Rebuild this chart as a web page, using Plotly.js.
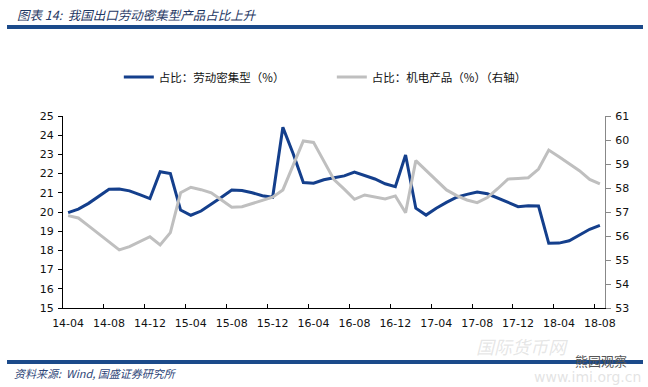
<!DOCTYPE html>
<html><head><meta charset="utf-8">
<script src="https://cdn.plot.ly/plotly-3.0.1.min.js"></script>
<style>html,body{margin:0;padding:0;background:#fff}#chart{width:648px;height:387px}</style>
</head><body><div id="chart"></div>
<script>
const months = [
  "2014-04","2014-05","2014-06","2014-07","2014-08","2014-09","2014-10","2014-11","2014-12",
  "2015-01","2015-02","2015-03","2015-04","2015-05","2015-06","2015-07","2015-08","2015-09","2015-10","2015-11","2015-12",
  "2016-01","2016-02","2016-03","2016-04","2016-05","2016-06","2016-07","2016-08","2016-09","2016-10","2016-11","2016-12",
  "2017-01","2017-02","2017-03","2017-04","2017-05","2017-06","2017-07","2017-08","2017-09","2017-10","2017-11","2017-12",
  "2018-01","2018-02","2018-03","2018-04","2018-05","2018-06","2018-07","2018-08"
];
const tickMonths = ["2014-04","2014-08","2014-12","2015-04","2015-08","2015-12","2016-04","2016-08","2016-12","2017-04","2017-08","2017-12","2018-04","2018-08"];
const tickLabels = ["14-04","14-08","14-12","15-04","15-08","15-12","16-04","16-08","16-12","17-04","17-08","17-12","18-04","18-08"];

// 占比：劳动密集型（%） left axis
const laborShare = [
  19.97,20.15,20.45,20.82,21.18,21.20,21.10,20.90,20.70,
  22.10,22.00,20.10,19.83,20.05,20.40,20.77,21.15,21.12,21.00,20.85,20.77,
  24.41,23.05,21.53,21.50,21.68,21.78,21.88,22.08,21.90,21.72,21.47,21.32,
  22.97,20.20,19.84,20.20,20.50,20.77,20.92,21.04,20.95,20.72,20.50,20.28,
  20.33,20.31,18.37,18.38,18.50,18.80,19.10,19.30
];
// 占比：机电产品（%） right axis
const mechShare = [
  56.85,56.75,56.42,56.08,55.75,55.42,55.56,55.77,55.97,
  55.63,56.14,57.80,58.03,57.93,57.80,57.50,57.20,57.22,57.35,57.48,57.62,
  57.92,58.95,59.96,59.90,59.10,58.35,57.95,57.53,57.71,57.62,57.54,57.67,
  56.97,59.14,58.73,58.32,57.92,57.68,57.50,57.39,57.60,57.97,58.37,58.40,
  58.43,58.79,59.58,59.30,59.00,58.72,58.36,58.17
];
const seriesNames = ["占比：劳动密集型（%）","占比：机电产品（%）（右轴）"];
const titleText = "图表 14:  我国出口劳动密集型产品占比上升";
const sourceText = "资料来源:  Wind, 国盛证券研究所";

const tickFont = {family:"DejaVu Sans", size:11, color:"#111"};
const cjk = "Noto Sans CJK SC";

const traces = [
  {x:months, y:laborShare, type:"scatter", mode:"lines", name:seriesNames[0],
   line:{color:"#143F8C", width:3}, yaxis:"y"},
  {x:months, y:mechShare, type:"scatter", mode:"lines", name:seriesNames[1],
   line:{color:"#BFBFBF", width:3}, yaxis:"y2"}
];

const layout = {
  width:648, height:387,
  margin:{l:63, r:43, t:116, b:79},
  paper_bgcolor:"#fff", plot_bgcolor:"#fff",
  showlegend:true,
  legend:{orientation:"h", x:0.103, xanchor:"left", y:1.203, yanchor:"middle",
          font:{family:cjk, size:11.5, color:"#111"}, entrywidth:168, bgcolor:"rgba(0,0,0,0)"},
  xaxis:{type:"category", categoryorder:"array", categoryarray:months,
         range:[-0.5, 52.5], tickmode:"array", tickvals:tickMonths, ticktext:tickLabels,
         tickson:"boundaries", ticks:"inside", ticklen:4, tickcolor:"#000", tickangle:0,
         showline:true, linecolor:"#000", linewidth:1, showgrid:false, zeroline:false,
         tickfont:tickFont, ticklabelstandoff:5},
  yaxis:{range:[15,25], dtick:1, tick0:15, ticks:"outside", ticklen:4, tickcolor:"#000",
         showline:true, linecolor:"#000", linewidth:1, showgrid:false, zeroline:false,
         tickfont:tickFont, ticklabelstandoff:2},
  yaxis2:{range:[53,61], dtick:1, tick0:53, overlaying:"y", side:"right",
          ticks:"outside", ticklen:5, tickcolor:"#888",
          showline:true, linecolor:"#888", linewidth:1, showgrid:false, zeroline:false,
          tickfont:tickFont, ticklabelstandoff:2},
  shapes:[
    {type:"line", xref:"paper", yref:"paper", x0:-0.1033, x1:1.0701, y0:1.4635, y1:1.4635,
     line:{color:"#1B4A8A", width:4}},
    {type:"line", xref:"paper", yref:"paper", x0:-0.1033, x1:1.0701, y0:-0.2813, y1:-0.2813,
     line:{color:"#1B4A8A", width:4}}
  ],
  annotations:[
    {text:titleText, xref:"paper", yref:"paper", x:-0.0886, y:1.531, xanchor:"left", yanchor:"middle",
     showarrow:false, font:{family:cjk, size:12.5, color:"#1F3864", style:"italic"}},
    {text:sourceText, xref:"paper", yref:"paper", x:-0.094, y:-0.338, xanchor:"left", yanchor:"middle",
     showarrow:false, font:{family:cjk, size:11, color:"#2F4678", style:"italic"}},
    {text:"国际货币网", xref:"paper", yref:"paper", x:0.935, y:-0.2, xanchor:"right", yanchor:"middle",
     showarrow:false, font:{family:cjk, size:18, color:"rgba(200,200,200,0.45)", style:"italic"}},
    {text:"熊园观察", xref:"paper", yref:"paper", x:1.045, y:-0.271, xanchor:"right", yanchor:"middle",
     showarrow:false, font:{family:cjk, size:13, color:"#555"}},
    {text:"www.imi.org.cn", xref:"paper", yref:"paper", x:1.07, y:-0.36, xanchor:"right", yanchor:"middle",
     showarrow:false, font:{family:"DejaVu Sans", size:14, color:"rgba(200,200,200,0.5)"}}
  ]
};

Plotly.newPlot("chart", traces, layout, {displayModeBar:false, staticPlot:true});
</script>
</body></html>
